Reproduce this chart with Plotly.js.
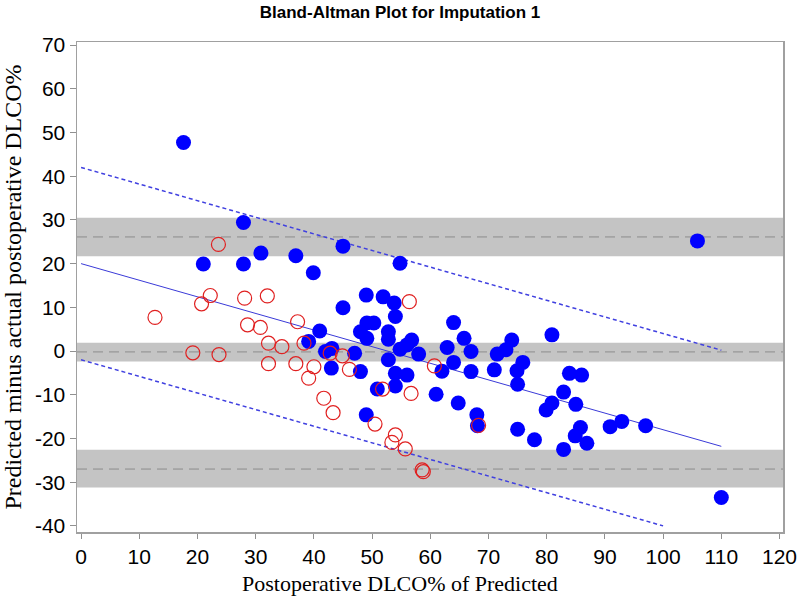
<!DOCTYPE html>
<html>
<head>
<meta charset="utf-8">
<script src="https://cdn.plot.ly/plotly-3.0.1.min.js"></script>
<style>html,body{margin:0;padding:0;background:#fff;}#chart{width:800px;height:600px;}</style>
</head>
<body>
<div id="chart"></div>
<script>
// Observed (blue, filled) points
var blueX = [17.6,27.9,21.0,27.9,30.9,36.9,39.9,45.0,54.8,45.0,49.0,51.9,53.8,54.0,49.1,50.3,48.0,49.1,52.8,52.8,56.8,56.0,54.8,58.0,62.9,64.0,41.0,39.1,42.0,43.1,47.0,43.0,48.0,52.8,54.0,56.0,62.0,64.0,50.9,54.0,61.0,64.8,49.0,65.8,74.0,80.9,67.0,71.5,73.0,75.9,74.9,71.0,67.0,83.9,86.0,75.0,82.9,80.9,79.9,85.0,68.0,68.1,75.0,77.9,85.8,84.9,86.9,82.9,90.9,92.9,97.0,105.9,110.0];
var blueY = [47.7,29.4,19.9,19.9,22.4,21.8,17.9,24.0,20.1,9.9,12.8,12.4,11.0,7.9,6.4,6.4,4.4,2.9,4.4,2.7,2.5,1.4,0.4,-0.7,0.8,6.5,4.6,2.2,-0.1,0.6,-0.5,-3.9,-4.7,-2.0,-5.1,-5.5,-4.6,-2.6,-8.7,-8.0,-9.9,-11.9,-14.6,2.9,2.5,3.7,-0.1,-0.7,0.3,-2.6,-4.5,-4.3,-4.7,-5.1,-5.5,-7.6,-9.4,-11.9,-13.5,-12.2,-14.6,-17.1,-17.9,-20.3,-17.5,-19.4,-21.1,-22.5,-17.3,-16.1,-17.1,25.2,-33.5];
// Imputed (red, open) points
var redX = [23.6,22.2,28.1,20.7,32.0,12.7,28.6,30.8,37.2,56.4,32.2,34.5,38.3,19.2,23.7,42.8,44.9,32.2,36.9,40.0,46.1,39.1,60.7,51.8,56.7,41.7,43.3,50.5,54.0,53.4,55.7,58.6,58.8,68.3];
var redY = [24.4,12.7,12.1,10.8,12.6,7.7,6.0,5.4,6.7,11.3,1.8,1.0,1.8,-0.4,-0.8,-0.5,-1.1,-2.9,-2.9,-3.6,-4.2,-6.2,-3.4,-8.7,-9.7,-10.8,-14.1,-16.7,-19.2,-20.9,-22.4,-27.2,-27.6,-17.0];
// Regression line and its limits
var regX = [0,110];
var regY = [20,-21.8];
var upperX = [0,110];
var upperY = [42,0.2];
var lowerX = [0,100];
var lowerY = [-2,-40];
// Horizontal reference bands: [low, centre, high]
var bandLow = [21.7,-2.4,-31.2];
var bandMid = [26.1,-0.2,-27.0];
var bandHigh = [30.5,1.9,-22.6];
var xTicks = [0,10,20,30,40,50,60,70,80,90,100,110,120];
var yTicks = [-40,-30,-20,-10,0,10,20,30,40,50,60,70];

var shapes = [];
for (var i = 0; i < bandLow.length; i++) {
  shapes.push({type:'rect', xref:'paper', yref:'y', x0:0, x1:1, y0:bandLow[i], y1:bandHigh[i],
    fillcolor:'#c4c4c4', line:{width:0}, layer:'below'});
  shapes.push({type:'line', xref:'paper', yref:'y', x0:0, x1:1, y0:bandMid[i], y1:bandMid[i],
    line:{color:'#8c8c8c', width:1, dash:'10px,6px'}, layer:'below'});
}

var traces = [
  {x:regX, y:regY, mode:'lines', line:{color:'#3a3ad8', width:1}, hoverinfo:'skip'},
  {x:upperX, y:upperY, mode:'lines', line:{color:'#4040e0', width:1.5, dash:'4px,3px'}, hoverinfo:'skip'},
  {x:lowerX, y:lowerY, mode:'lines', line:{color:'#4040e0', width:1.5, dash:'4px,3px'}, hoverinfo:'skip'},
  {x:blueX, y:blueY, mode:'markers', marker:{symbol:'circle', size:15, color:'#0000ff', line:{width:0}}},
  {x:redX, y:redY, mode:'markers', marker:{symbol:'circle-open', size:14, color:'#e02020', line:{width:1.2, color:'#e02020'}}}
];

var tickFont = {family:'Liberation Sans Narrow, Arial Narrow, Liberation Sans, sans-serif', size:21, color:'#000'};
var layout = {
  width:800, height:600,
  margin:{l:77, r:17, t:42, b:68},
  paper_bgcolor:'#fff', plot_bgcolor:'#fff',
  showlegend:false,
  title:{text:'<b>Bland-Altman Plot for Imputation 1</b>', x:0.5, xanchor:'center', y:0.98, yanchor:'middle',
    font:{family:'Liberation Sans Narrow, Arial Narrow, Liberation Sans, sans-serif', size:17, color:'#000'}},
  xaxis:{range:[-0.7,120.6], tickvals:xTicks, ticktext:xTicks.map(String), ticks:'outside', ticklen:5, tickcolor:'#909090',
    showline:true, linecolor:'#a0a0a0', linewidth:1.5, mirror:true, showgrid:false, zeroline:false,
    tickfont:tickFont},
  yaxis:{range:[-41.4,70.7], tickvals:yTicks, ticktext:yTicks.map(String), ticks:'outside', ticklen:6, tickcolor:'#909090',
    showline:true, linecolor:'#a0a0a0', linewidth:1.5, mirror:true, showgrid:false, zeroline:false,
    tickfont:tickFont,
    title:{text:'Predicted minus actual postoperative DLCO%', font:{family:'Liberation Serif, Times New Roman, serif', size:24, color:'#000'}, standoff:6}},
  annotations:[{text:'Postoperative DLCO% of Predicted', xref:'paper', yref:'paper', x:0.4575, y:-0.075,
    xanchor:'center', yanchor:'top', showarrow:false,
    font:{family:'Liberation Serif, Times New Roman, serif', size:22, color:'#000'}}],
  shapes:shapes
};
Plotly.newPlot('chart', traces, layout, {displayModeBar:false, staticPlot:true});
</script>
</body>
</html>
